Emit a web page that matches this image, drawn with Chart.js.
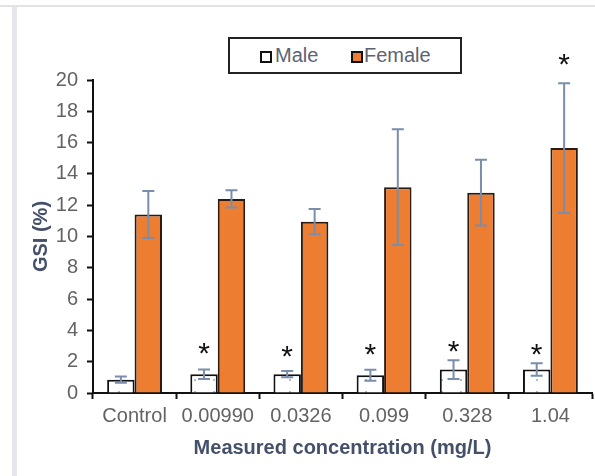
<!DOCTYPE html>
<html>
<head>
<meta charset="utf-8">
<script src="https://cdn.jsdelivr.net/npm/chart.js@4.4.1/dist/chart.umd.min.js"></script>
<style>
  html, body { margin: 0; padding: 0; background: #fff; }
  #wrap { position: relative; width: 595px; height: 476px; overflow: hidden; }
  #topLine { position: absolute; left: 0; top: 5px; width: 595px; height: 2px; background: #e2e2e8; }
  #sideBar { position: absolute; left: 12px; top: 7px; width: 5px; height: 469px; background: #e6e6ec; }
  #chart { position: absolute; left: 0; top: 0; }
  #legend {
    position: absolute; left: 228px; top: 37px; width: 230px; height: 33px;
    border: 2px solid #222; background: #fff;
    font-family: "Liberation Sans", Arial, sans-serif; font-size: 20px; color: #5d6272;
  }
  #legend .sw { position: absolute; top: 12px; width: 8px; height: 8px; border: 2px solid #111; }
  #legend .lb { position: absolute; top: 5px; line-height: 22px; }
</style>
</head>
<body>
<div id="wrap">
  <div id="topLine"></div>
  <div id="sideBar"></div>
  <canvas id="chart" width="595" height="476"></canvas>
  <div id="legend">
    <div class="sw" style="left:30px;background:#fff"></div><div class="lb" style="left:45px">Male</div>
    <div class="sw" style="left:121px;background:#ed7d31"></div><div class="lb" style="left:134px">Female</div>
  </div>
</div>
<script>
// concentrations (mg/L)
const categories = ["Control", "0.00990", "0.0326", "0.099", "0.328", "1.04"];
// GSI (%) means and standard deviations
const maleGSI = [0.85, 1.2, 1.2, 1.13, 1.5, 1.5];
const maleSD = [0.2, 0.3, 0.2, 0.35, 0.6, 0.4];
const femaleGSI = [11.4, 12.4, 10.95, 13.15, 12.8, 15.65];
const femaleSD = [1.5, 0.55, 0.8, 3.7, 2.1, 4.15];
// significance markers, height (in GSI units) where the asterisk sits
const maleStar = [null, 2.85, 2.65, 2.75, 2.95, 2.75];
const femaleStar = [null, null, null, null, null, 21.3];

const FONT = '"Liberation Sans", Arial, sans-serif';

// white fill with a few faint dots for the male bars
function dotPattern() {
    const c = document.createElement('canvas');
    c.width = 19; c.height = 12;
    const g = c.getContext('2d');
    g.fillStyle = '#ffffff';
    g.fillRect(0, 0, 19, 12);
    g.fillStyle = '#a9bcd6';
    g.fillRect(4, 7, 2, 2);
    return g.createPattern(c, 'repeat');
}

const errorBars = {
    id: 'errorBars',
    afterDatasetsDraw(chart) {
        const ctx = chart.ctx;
        const y = chart.scales.y;
        const sds = [maleSD, femaleSD];
        ctx.save();
        ctx.strokeStyle = '#7a8eab';
        ctx.lineWidth = 2;
        chart.data.datasets.forEach((ds, di) => {
            chart.getDatasetMeta(di).data.forEach((bar, i) => {
                const v = ds.data[i], sd = sds[di][i];
                const top = y.getPixelForValue(v + sd);
                const bot = y.getPixelForValue(v - sd);
                ctx.beginPath();
                ctx.moveTo(bar.x, top); ctx.lineTo(bar.x, bot);
                ctx.moveTo(bar.x - 6, top); ctx.lineTo(bar.x + 6, top);
                ctx.moveTo(bar.x - 6, bot); ctx.lineTo(bar.x + 6, bot);
                ctx.stroke();
            });
        });
        ctx.restore();
    }
};

const stars = {
    id: 'stars',
    afterDraw(chart) {
        const ctx = chart.ctx;
        const y = chart.scales.y;
        ctx.save();
        ctx.fillStyle = '#111';
        ctx.font = '30px ' + FONT;
        ctx.textAlign = 'center';
        ctx.textBaseline = 'middle';
        [maleStar, femaleStar].forEach((levels, di) => {
            chart.getDatasetMeta(di).data.forEach((bar, i) => {
                if (levels[i] == null) return;
                ctx.fillText('*', bar.x, y.getPixelForValue(levels[i]) + 6);
            });
        });
        ctx.restore();
    }
};

const ctx = document.getElementById('chart').getContext('2d');
new Chart(ctx, {
    type: 'bar',
    data: {
        labels: categories,
        datasets: [
            { label: 'Male', data: maleGSI, backgroundColor: dotPattern(), borderColor: '#111', borderWidth: 2 },
            { label: 'Female', data: femaleGSI, backgroundColor: '#ed7d31', borderColor: '#2a1a10', borderWidth: 2 }
        ]
    },
    options: {
        responsive: false,
        animation: false,
        categoryPercentage: 0.66,
        barPercentage: 1.0,
        layout: { padding: { top: 80, right: 3, bottom: 12, left: 29 } },
        plugins: { legend: { display: false }, tooltip: { enabled: false } },
        scales: {
            x: {
                border: { color: '#111', width: 2 },
                grid: { drawOnChartArea: false, drawTicks: true, tickLength: 6, tickColor: '#111', tickWidth: 2 },
                ticks: { color: '#636363', font: { family: FONT, size: 20 }, padding: 5 },
                title: { display: true, text: 'Measured concentration (mg/L)', color: '#44506a',
                         font: { family: FONT, size: 20, weight: 'bold' }, padding: { top: 3, bottom: 4 } }
            },
            y: {
                min: 0, max: 20,
                border: { color: '#111', width: 2 },
                grid: { drawOnChartArea: false, drawTicks: true, tickLength: 6, tickColor: '#111', tickWidth: 2 },
                ticks: { stepSize: 2, color: '#636363', font: { family: FONT, size: 20 }, padding: 9 },
                title: { display: true, text: 'GSI (%)', color: '#44506a',
                         font: { family: FONT, size: 20, weight: 'bold' }, padding: { top: 0, bottom: 5 } },
                afterFit(scale) { scale.width = 64; }
            }
        }
    },
    plugins: [errorBars, stars]
});
</script>
</body>
</html>
